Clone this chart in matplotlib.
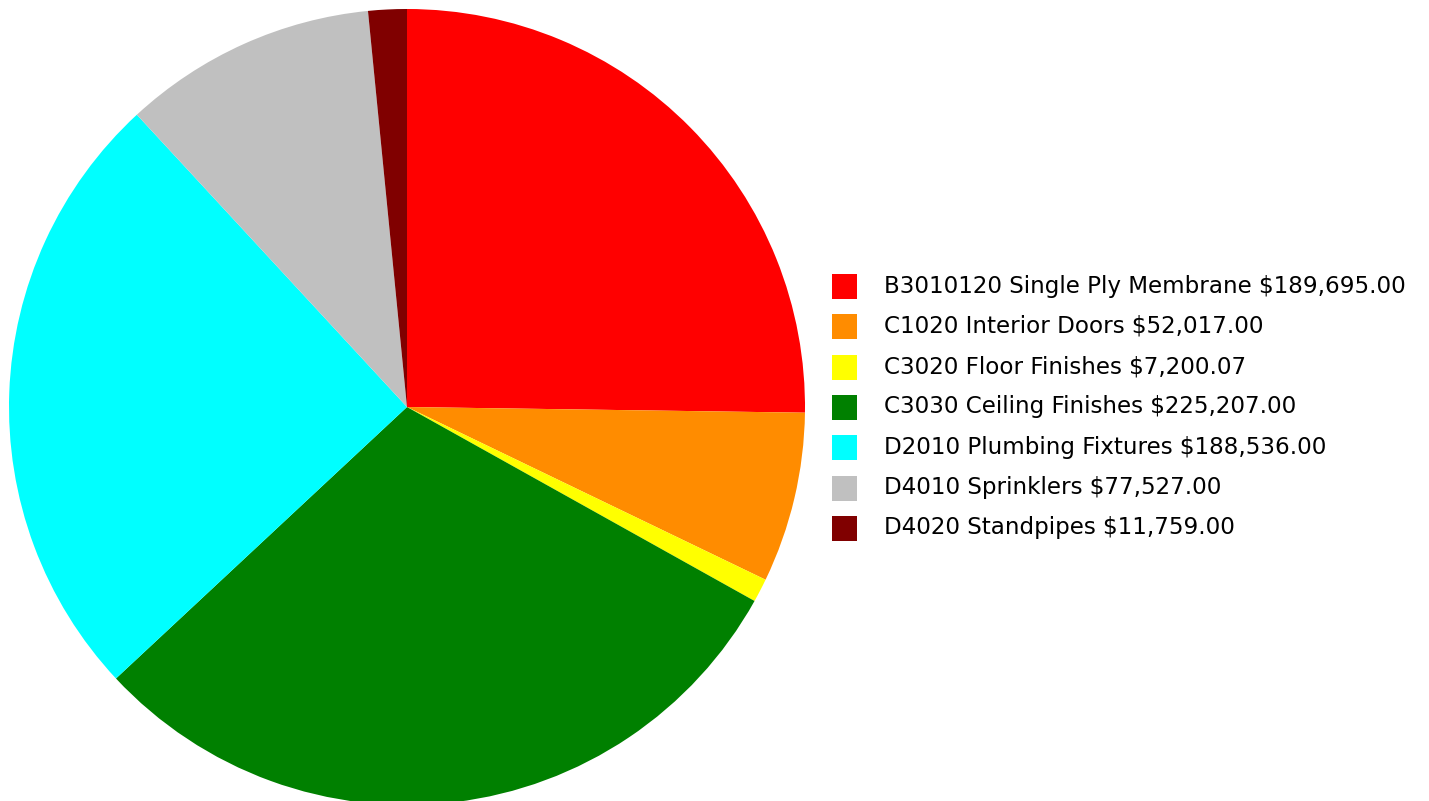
"""Pie chart of building system costs with a right-hand legend."""

import matplotlib

matplotlib.use("Agg")
import matplotlib.pyplot as plt  # noqa: E402
from matplotlib.patches import Rectangle  # noqa: E402

LABELS = [
    "B3010120 Single Ply Membrane $189,695.00",
    "C1020 Interior Doors $52,017.00",
    "C3020 Floor Finishes $7,200.07",
    "C3030 Ceiling Finishes $225,207.00",
    "D2010 Plumbing Fixtures $188,536.00",
    "D4010 Sprinklers $77,527.00",
    "D4020 Standpipes $11,759.00",
]
VALUES = [189695.00, 52017.00, 7200.07, 225207.00, 188536.00, 77527.00, 11759.00]
COLORS = ["#FF0000", "#FF8C00", "#FFFF00", "#008000", "#00FFFF", "#C0C0C0", "#800000"]

W, H = 1429, 801
figure = plt.figure(figsize=(W / 100, H / 100), dpi=100)
figure.patch.set_facecolor("white")

# pie: centre (407, 407) px, radius ~398 px
cx, cy, r = 407, 407, 398
axis = figure.add_axes([(cx - r) / W, (H - cy - r) / H, 2 * r / W, 2 * r / H])
axis.pie(
    VALUES,
    colors=COLORS,
    startangle=90,
    counterclock=False,
    radius=1.0,
    wedgeprops={"linewidth": 0},
)
axis.set_xlim(-1, 1)
axis.set_ylim(-1, 1)
axis.set_aspect("equal")
axis.axis("off")

# legend drawn by hand to match the reference spacing
row0, step = 286, 40.3
for i, (label, color) in enumerate(zip(LABELS, COLORS)):
    y = row0 + i * step
    figure.patches.append(
        Rectangle(
            (832 / W, (H - y - 13) / H),
            25 / W,
            25 / H,
            transform=figure.transFigure,
            facecolor=color,
            edgecolor="none",
        )
    )
    figure.text(
        884 / W,
        (H - y) / H,
        label,
        fontsize=16.6,
        family="DejaVu Sans",
        va="center",
        ha="left",
        color="#000000",
    )

figure.savefig("out.png", dpi=100, facecolor="white")
